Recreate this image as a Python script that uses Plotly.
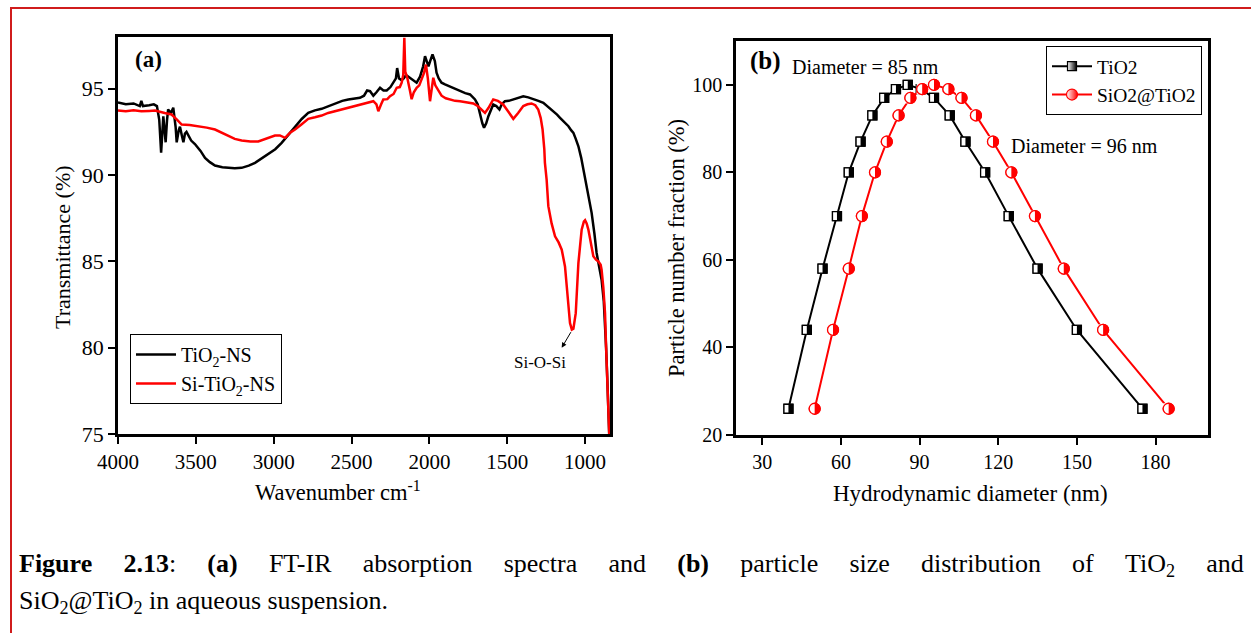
import plotly.graph_objects as go

W, H = 1251, 633
SERIF = "Liberation Serif, Times New Roman, serif"

# ---------------- Panel (a): FT-IR spectra ----------------
tio2_wn = [4000, 3950, 3900, 3860, 3850, 3840, 3800, 3770, 3750, 3735, 3723, 3715, 3709, 3700,
           3694, 3685, 3678, 3660, 3645, 3630, 3623, 3610, 3602, 3590, 3580, 3570, 3560, 3530,
           3506, 3470, 3441, 3410, 3377, 3330, 3292, 3250, 3206, 3160, 3120, 3080, 3035, 2990,
           2949, 2905, 2863, 2820, 2778, 2735, 2692, 2650, 2606, 2560, 2521, 2480, 2446, 2420,
           2400, 2381, 2360, 2340, 2317, 2295, 2274, 2250, 2232, 2215, 2207, 2195, 2178, 2165,
           2150, 2124, 2100, 2082, 2060, 2040, 2028, 2015, 2006, 1995, 1980, 1965, 1954, 1940,
           1922, 1900, 1868, 1835, 1803, 1770, 1739, 1707, 1690, 1675, 1660, 1649, 1635, 1621,
           1605, 1590, 1570, 1550, 1535, 1515, 1490, 1461, 1430, 1397, 1365, 1333, 1300, 1268,
           1235, 1204, 1180, 1161, 1135, 1107, 1090, 1075, 1060, 1043, 1025, 1011, 995, 979,
           958, 940, 926, 910, 894, 880, 872, 865, 857, 850, 845]
tio2_t = [94.2, 94.1, 94.15, 94.0, 94.3, 94.0, 94.05, 94.1, 94.0, 93.2, 91.3, 92.9, 93.4, 92.5,
          91.9, 93.2, 93.8, 93.6, 93.9, 92.8, 91.9, 92.6, 92.8, 92.3, 91.9, 92.4, 92.5, 92.0,
          91.8, 91.4, 91.0, 90.75, 90.55, 90.45, 90.42, 90.4, 90.42, 90.55, 90.71, 90.95, 91.19, 91.5,
          91.87, 92.35, 92.83, 93.25, 93.6, 93.75, 93.84, 94.0, 94.15, 94.3, 94.38, 94.42, 94.48, 94.6,
          94.9, 94.86, 94.6, 94.8, 95.06, 94.9, 94.9, 95.1, 95.35, 95.6, 96.2, 95.6, 95.5, 95.6,
          95.8, 95.64, 95.5, 95.35, 95.7, 96.3, 96.89, 96.6, 96.3, 96.6, 96.99, 96.6, 95.93, 95.6,
          95.35, 95.25, 95.12, 95.0, 94.86, 94.75, 94.67, 94.38, 94.1, 93.51, 93.0, 92.74, 93.0, 93.41,
          93.8, 94.09, 94.0, 93.8, 94.1, 94.28, 94.3, 94.38, 94.45, 94.57, 94.5, 94.38, 94.3, 94.19,
          93.95, 93.7, 93.5, 93.32, 93.1, 92.83, 92.6, 92.45, 92.1, 91.67, 91.0, 90.32, 89.4, 88.6,
          87.81, 86.6, 85.49, 84.7, 83.94, 82.7, 81.6, 80.0, 78.1, 76.3, 75.0]

si_wn = [4000, 3950, 3900, 3850, 3800, 3762, 3700, 3656, 3620, 3591, 3540, 3484, 3430, 3377,
         3330, 3292, 3250, 3206, 3150, 3099, 3050, 2992, 2960, 2927, 2895, 2863, 2820, 2778,
         2735, 2692, 2650, 2606, 2560, 2521, 2480, 2446, 2400, 2360, 2340, 2328, 2310, 2296,
         2270, 2253, 2230, 2210, 2190, 2178, 2168, 2161, 2155, 2142, 2125, 2114, 2100, 2082,
         2065, 2050, 2035, 2022, 2010, 1996, 1985, 1975, 1962, 1949, 1935, 1922, 1895, 1868,
         1835, 1803, 1760, 1718, 1690, 1665, 1643, 1620, 1590, 1560, 1526, 1495, 1461, 1430,
         1397, 1370, 1344, 1320, 1301, 1285, 1273, 1262, 1258, 1247, 1236, 1215, 1193, 1170,
         1150, 1129, 1114, 1097, 1085, 1075, 1060, 1043, 1022, 1008, 1000, 990, 979, 962,
         947, 930, 915, 900, 894, 883, 872, 865, 857, 850, 845]
si_t = [93.74, 93.7, 93.75, 93.7, 93.72, 93.74, 93.6, 93.51, 93.2, 92.93, 92.9, 92.83, 92.75, 92.64,
        92.45, 92.25, 92.1, 92.0, 91.95, 91.95, 92.1, 92.29, 92.3, 92.16, 92.45, 92.64, 92.95, 93.26,
        93.35, 93.45, 93.6, 93.7, 93.8, 93.9, 94.0, 94.09, 94.2, 94.28, 94.1, 93.7, 94.1, 94.38,
        94.4, 94.57, 94.7, 95.06, 95.1, 95.35, 95.8, 97.96, 96.0, 95.64, 94.9, 94.4, 94.8, 95.06,
        95.2, 95.6, 95.9, 96.4, 95.6, 94.28, 95.0, 95.64, 95.2, 95.0, 94.8, 94.6, 94.45, 94.38,
        94.3, 94.28, 94.2, 94.15, 94.0, 93.8, 93.6, 93.9, 94.38, 94.3, 94.09, 93.7, 93.26, 93.6,
        94.0, 94.1, 94.15, 94.05, 93.8, 93.3, 92.64, 91.5, 90.71, 89.74, 88.2, 87.2, 86.45, 86.1,
        85.68, 84.71, 82.98, 81.43, 81.05, 81.1, 82.0, 84.9, 86.84, 87.3, 87.38, 87.2, 86.84, 86.0,
        85.3, 85.1, 85.0, 84.8, 84.52, 83.5, 82.0, 80.0, 78.1, 76.3, 75.0]

a_xticks = [4000, 3500, 3000, 2500, 2000, 1500, 1000]
a_yticks = [75, 80, 85, 90, 95]

# ---------------- Panel (b): particle size distribution ----------------
tio2_d = [40, 47, 53, 58.5, 63, 67.5, 72, 76.5, 81, 85.5, 90.5, 95.5, 101.5, 107.5, 115, 124, 135, 150, 175]
tio2_f = [26, 44, 58, 70, 80, 87, 93, 97, 99, 100, 99, 97, 93, 87, 80, 70, 58, 44, 26]
sio2_d = [50, 57, 63, 68, 73, 77.5, 82, 86.5, 91, 95.5, 101, 106, 111.5, 118, 125, 134, 145, 160, 185]
sio2_f = [26, 44, 58, 70, 80, 87, 93, 97, 99, 100, 99, 97, 93, 87, 80, 70, 58, 44, 26]

b_xticks = [30, 60, 90, 120, 150, 180]
b_yticks = [20, 40, 60, 80, 100]

caption_line1_words = ["<b>Figure</b>", "<b>2.13</b>:", "<b>(a)</b>", "FT-IR", "absorption", "spectra",
                       "and", "<b>(b)</b>", "particle", "size", "distribution", "of", "TiO<sub>2</sub>", "and"]
caption_line2 = "SiO<sub>2</sub>@TiO<sub>2</sub> in aqueous suspension."


def px(x):
    return x / W


def py(y):
    return 1 - y / H


fig = go.Figure()

# Panel (a) traces
fig.add_trace(go.Scatter(x=tio2_wn, y=tio2_t, mode="lines", name="TiO<sub>2</sub>-NS",
                         line=dict(color="black", width=2.5), xaxis="x", yaxis="y",
                         legend="legend", legendgroup="a1"))
fig.add_trace(go.Scatter(x=si_wn, y=si_t, mode="lines", name="Si-TiO<sub>2</sub>-NS",
                         line=dict(color="#ff0000", width=2.5), xaxis="x", yaxis="y",
                         legend="legend", legendgroup="a2"))


def half_marker_traces(xs, ys, color, symbol, size, name, lw):
    traces = []
    traces.append(go.Scatter(
        x=xs, y=ys, mode="lines+markers", name=name, xaxis="x2", yaxis="y2",
        legend="legend2",
        line=dict(color=color, width=lw),
        marker=dict(symbol=symbol, size=size, color="white",
                    gradient=dict(type="horizontal", color=color),
                    line=dict(color=color, width=1.2))))
    traces.append(go.Scatter(
        x=xs, y=ys, mode="markers", showlegend=False, xaxis="x2", yaxis="y2", hoverinfo="skip",
        marker=dict(symbol=symbol, size=size, color=color, line=dict(width=0))))
    traces.append(go.Scatter(
        x=xs, y=ys, mode="markers", showlegend=False, xaxis="x2", yaxis="y2", hoverinfo="skip",
        marker=dict(symbol="line-ew", size=size / 1.4, angle=90, standoff=size / 4,
                    color="white", line=dict(color="white", width=size / 2))))
    traces.append(go.Scatter(
        x=xs, y=ys, mode="markers", showlegend=False, xaxis="x2", yaxis="y2", hoverinfo="skip",
        marker=dict(symbol=symbol + "-open", size=size, color=color, line=dict(color=color, width=1.3))))
    return traces


for t in half_marker_traces(tio2_d, tio2_f, "black", "square", 9, "TiO2", 2):
    fig.add_trace(t)
for t in half_marker_traces(sio2_d, sio2_f, "#ff0000", "circle", 11, "SiO2@TiO2", 2):
    fig.add_trace(t)

axis_common = dict(showline=True, linecolor="black", mirror=True, ticks="outside",
                   tickcolor="black", showgrid=False, zeroline=False)

fig.update_layout(
    width=W, height=H,
    margin=dict(l=0, r=0, t=0, b=0, autoexpand=False),
    paper_bgcolor="white", plot_bgcolor="white",
    font=dict(family=SERIF, color="black"),
    xaxis=dict(domain=[px(118), px(610)], range=[4000, 840], tickvals=a_xticks,
               linewidth=2.5, ticklen=7, tickwidth=2, tickfont=dict(size=21, family=SERIF),
               anchor="y", **axis_common),
    yaxis=dict(domain=[py(434), py(37)], range=[75, 98], tickvals=a_yticks,
               linewidth=2.5, ticklen=7, tickwidth=2, tickfont=dict(size=22, family=SERIF),
               anchor="x", **axis_common),
    xaxis2=dict(domain=[px(736), px(1208)], range=[20, 200], tickvals=b_xticks,
                linewidth=2.5, ticklen=7, tickwidth=2, tickfont=dict(size=20, family=SERIF),
                anchor="y2", **axis_common),
    yaxis2=dict(domain=[py(435), py(41)], range=[20, 110], tickvals=b_yticks,
                linewidth=2.5, ticklen=7, tickwidth=2, tickfont=dict(size=20, family=SERIF),
                anchor="x2", **axis_common),
    legend=dict(x=px(130), y=py(334), xanchor="left", yanchor="top",
                bgcolor="white", bordercolor="black", borderwidth=1,
                font=dict(size=20, family=SERIF), traceorder="grouped", tracegroupgap=0,
                itemwidth=40),
    legend2=dict(x=px(1046), y=py(46), xanchor="left", yanchor="top",
                 bgcolor="white", bordercolor="black", borderwidth=1,
                 font=dict(size=19.5, family=SERIF), itemwidth=40, tracegroupgap=0),
    showlegend=True,
)


def pann(text, x, y, size, angle=0, xanchor="center"):
    return dict(text=text, x=px(x), y=py(y), xref="paper", yref="paper", showarrow=False,
                xanchor=xanchor, yanchor="middle", textangle=angle, font=dict(size=size))


ann = []
# axis titles
ann.append(pann("Wavenumber cm<sup>-1</sup>", 338, 491, 22.5))
ann.append(pann("Transmittance (%)", 62, 247, 22, angle=-90))
ann.append(pann("Hydrodynamic diameter (nm)", 970, 493, 23))
ann.append(pann("Particle number fraction (%)", 676, 248, 22.5, angle=-90))
# panel labels
ann.append(pann("<b>(a)</b>", 148, 59, 23))
ann.append(pann("<b>(b)</b>", 765, 61, 25))
ann.append(pann("Diameter = 85 nm", 865, 67, 20))
ann.append(pann("Diameter = 96 nm", 1084, 146, 20))
# Si-O-Si label and arrow
ann.append(dict(text="Si-O-Si", x=1290, y=79.13, xref="x", yref="y", showarrow=False,
                xanchor="center", yanchor="middle", font=dict(size=17)))
ann.append(dict(text="", x=1150, y=80.0, xref="x", yref="y", showarrow=True, ax=10, ay=-17,
                arrowhead=2, arrowsize=1, arrowwidth=1, arrowcolor="black"))
# caption (line 1 justified across the frame, as in the reference)
ann.append(pann("\u2003\u2009".join(caption_line1_words), 17, 565, 26, xanchor="left"))
ann.append(pann(caption_line2, 17, 602, 26, xanchor="left"))
fig.update_layout(annotations=ann)

# outer red frame
fig.add_shape(type="rect", xref="paper", yref="paper", x0=px(11), y0=-0.02, x1=1.02, y1=py(8),
              line=dict(color="#d01c1c", width=2), fillcolor="rgba(0,0,0,0)", layer="below")

fig.write_html("out.html")
